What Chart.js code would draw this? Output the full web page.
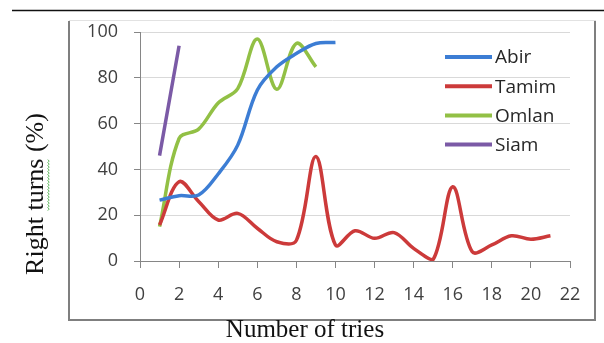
<!DOCTYPE html>
<html>
<head>
<meta charset="utf-8">
<script src="https://cdn.jsdelivr.net/npm/chart.js@4/dist/chart.umd.min.js"></script>
<style>
  html, body { margin: 0; padding: 0; background: #fff; }
  #wrap { position: relative; width: 604px; height: 343px; }
</style>
</head>
<body>
<div id="wrap"><canvas id="chart" width="604" height="343"></canvas></div>
<script>
// ─── Data ───────────────────────────────────────────
const TRIES = [1, 2, 3, 4, 5, 6, 7, 8, 9, 10, 11, 12, 13, 14, 15, 16, 17, 18, 19, 20, 21];
const ABIR  = [26.6, 28.5, 28.8, 38, 50.6, 74.6, 84.8, 90.6, 95, 95.4];
const TAMIM = [15.7, 34.6, 26, 17.9, 20.8, 14.3, 8.4, 9, 45.6, 7, 13.2, 9.9, 12.4, 5.5, 0.7, 32.4, 4, 7, 11, 9.5, 11];
const OMLAN = [15, 53.5, 57.6, 69, 75.3, 96.9, 75, 95, 84.8];
const SIAM  = [46, 94];

const NAMES  = ['Abir', 'Tamim', 'Omlan', 'Siam'];
const SERIES = [ABIR, TAMIM, OMLAN, SIAM];
const COLORS = ['#3c7dd4', '#cc3a3a', '#92c045', '#7b5aa6'];

const X_TICKS = [0, 2, 4, 6, 8, 10, 12, 14, 16, 18, 20, 22];
const Y_TICKS = [0, 20, 40, 60, 80, 100];

const X_TITLE = 'Number of tries';
const Y_TITLE = 'Right turns (%)';

// ─── Helpers ────────────────────────────────────────
const TICK_FONT = { family: "'Open Sans', sans-serif", size: 18 };
const AXIS_GREY = '#868686';
const TEXT_GREY = '#404040';

function toPoints(vals) { return vals.map((v, i) => ({ x: TRIES[i], y: v })); }

// frame, titles and legend drawn around the plot
const decor = {
  id: 'decor',
  beforeDraw(chart) {
    const ctx = chart.ctx;
    ctx.save();
    ctx.fillStyle = '#fff';
    ctx.fillRect(0, 0, chart.width, chart.height);

    // rule across the top
    ctx.strokeStyle = '#111';
    ctx.lineWidth = 1.5;
    ctx.beginPath(); ctx.moveTo(12, 10.5); ctx.lineTo(604, 10.5); ctx.stroke();

    // chart frame
    ctx.strokeStyle = '#e2e2e2';
    ctx.lineWidth = 1;
    ctx.beginPath(); ctx.moveTo(69, 20.5); ctx.lineTo(596, 20.5); ctx.stroke();
    ctx.strokeStyle = '#7f7f7f';
    ctx.lineWidth = 2;
    ctx.beginPath();
    ctx.moveTo(69, 21); ctx.lineTo(69, 320); ctx.lineTo(595, 320); ctx.lineTo(595, 21);
    ctx.stroke();
    ctx.restore();
  },
  afterDraw(chart) {
    const ctx = chart.ctx;
    ctx.save();

    // y title, rotated
    ctx.font = "26px 'Liberation Serif', serif";
    ctx.fillStyle = '#111';
    ctx.textAlign = 'center';
    ctx.textBaseline = 'alphabetic';
    ctx.translate(43, 194);
    ctx.rotate(-Math.PI / 2);
    ctx.fillText(Y_TITLE, 0, 0);

    // wavy spelling underline under "turns"
    const full = ctx.measureText(Y_TITLE).width;
    const pre = ctx.measureText('Right ').width;
    const word = ctx.measureText('turns').width;
    const x0 = -full / 2 + pre;
    ctx.strokeStyle = '#5cb85c';
    ctx.lineWidth = 1;
    ctx.beginPath();
    for (let x = x0, k = 0; x <= x0 + word; x += 1.5, k++) {
      const y = 5 + (k % 2 ? 1.2 : -0.2);
      if (k === 0) ctx.moveTo(x, y); else ctx.lineTo(x, y);
    }
    ctx.stroke();
    ctx.setTransform(1, 0, 0, 1, 0, 0);

    // x title
    ctx.font = "25px 'Liberation Serif', serif";
    ctx.fillStyle = '#111';
    ctx.textAlign = 'center';
    ctx.fillText(X_TITLE, 305, 337);

    // legend
    ctx.font = "19px 'Open Sans', sans-serif";
    ctx.textAlign = 'left';
    ctx.textBaseline = 'middle';
    chart.data.datasets.forEach((ds, i) => {
      const y = 57 + i * 29.2;
      ctx.strokeStyle = ds.borderColor;
      ctx.lineWidth = 4;
      ctx.beginPath(); ctx.moveTo(445, y); ctx.lineTo(492, y); ctx.stroke();
      ctx.fillStyle = '#262626';
      ctx.fillText(ds.label, 495, y + 1);
    });
    ctx.restore();
  }
};

// ─── Chart ──────────────────────────────────────────
new Chart(document.getElementById('chart'), {
  type: 'line',
  data: {
    datasets: SERIES.map((vals, i) => ({
      label: NAMES[i],
      data: toPoints(vals),
      borderColor: COLORS[i],
      backgroundColor: COLORS[i],
      borderWidth: 3.5,
      pointRadius: 0,
      tension: 0.35,
      fill: false
    }))
  },
  options: {
    responsive: false,
    animation: false,
    layout: { padding: { left: 0, right: 34, top: 32, bottom: 0 } },
    plugins: { legend: { display: false }, tooltip: { enabled: false } },
    scales: {
      x: {
        type: 'linear',
        min: X_TICKS[0],
        max: X_TICKS[X_TICKS.length - 1],
        afterBuildTicks(s) { s.ticks = X_TICKS.map(v => ({ value: v })); },
        afterFit(s) { s.height = 82; },
        ticks: { color: TEXT_GREY, font: TICK_FONT, padding: 16, maxRotation: 0 },
        grid: { drawOnChartArea: false, tickLength: 7, tickColor: AXIS_GREY },
        border: { color: AXIS_GREY, width: 1 }
      },
      y: {
        min: Y_TICKS[0],
        max: Y_TICKS[Y_TICKS.length - 1],
        afterBuildTicks(s) { s.ticks = Y_TICKS.map(v => ({ value: v })); },
        afterFit(s) { s.width = 140; },
        ticks: { color: TEXT_GREY, font: TICK_FONT, padding: 16 },
        grid: { color: '#d9d9d9', tickLength: 6, tickColor: AXIS_GREY },
        border: { color: AXIS_GREY, width: 1 }
      }
    }
  },
  plugins: [decor]
});
</script>
</body>
</html>
